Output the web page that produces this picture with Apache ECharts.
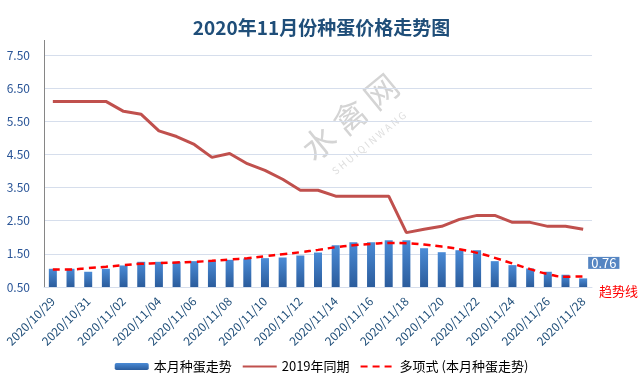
<!DOCTYPE html>
<html>
<head>
<meta charset="utf-8">
<script src="https://cdn.jsdelivr.net/npm/echarts@6/dist/echarts.min.js"></script>
<style>
html,body{margin:0;padding:0;background:#fff;}
#c{width:643px;height:392px;}
</style>
</head>
<body>
<div id="c"></div>
<script>
const categories = ['2020/10/29','2020/10/30','2020/10/31','2020/11/01','2020/11/02','2020/11/03','2020/11/04','2020/11/05','2020/11/06','2020/11/07','2020/11/08','2020/11/09','2020/11/10','2020/11/11','2020/11/12','2020/11/13','2020/11/14','2020/11/15','2020/11/16','2020/11/17','2020/11/18','2020/11/19','2020/11/20','2020/11/21','2020/11/22','2020/11/23','2020/11/24','2020/11/25','2020/11/26','2020/11/27','2020/11/28'];
const thisMonth = [1.05,1.05,0.96,1.05,1.15,1.26,1.26,1.26,1.28,1.30,1.32,1.36,1.37,1.39,1.45,1.54,1.76,1.85,1.85,1.91,1.91,1.67,1.55,1.61,1.61,1.28,1.16,1.06,0.96,0.87,0.76];
const lastYear = [6.1,6.1,6.1,6.1,5.8,5.71,5.21,5.04,4.8,4.41,4.53,4.22,4.02,3.75,3.42,3.42,3.24,3.24,3.24,3.24,2.14,2.24,2.33,2.54,2.66,2.66,2.45,2.45,2.33,2.33,2.24];
const trend = [1.03,1.03,1.07,1.11,1.16,1.2,1.22,1.24,1.26,1.29,1.33,1.37,1.43,1.49,1.55,1.62,1.70,1.76,1.80,1.83,1.82,1.78,1.72,1.64,1.53,1.38,1.21,1.04,0.89,0.81,0.82];
const yTicks = {min:0.5, max:7.5, step:1};
const seriesNames = ['本月种蛋走势','2019年同期','多项式 (本月种蛋走势)'];

const FONT = "'Noto Sans CJK SC', sans-serif";
const chart = echarts.init(document.getElementById('c'), null, {renderer:'canvas'});

const barGrad = new echarts.graphic.LinearGradient(0,0,0,1,[
  {offset:0,color:'#4A8BD6'},{offset:1,color:'#2B5C9C'}
]);

const barData = thisMonth.map((v,i)=> i === thisMonth.length-1 ? {
  value:v,
  label:{show:true, position:[9,-21.5], formatter:(p)=>p.value.toFixed(2),
    backgroundColor:'#5585C2', color:'#fff', fontSize:13, lineHeight:12,
    padding:[0,3], fontFamily:FONT}
} : v);

chart.setOption({
  animation:false,
  textStyle:{fontFamily:FONT},
  title:{
    text:'2020年11月份种蛋价格走势图', left:'center', top:13,
    textStyle:{fontSize:19, fontWeight:'bold', color:'#1F4E79', fontFamily:FONT}
  },
  legend:{
    bottom:14, left:'center', itemWidth:34, itemHeight:7, itemGap:10,
    textStyle:{fontSize:13, color:'#000', fontFamily:FONT},
    data:[
      {name:seriesNames[0]},
      {name:seriesNames[1], itemStyle:{opacity:0}},
      {name:seriesNames[2], itemStyle:{opacity:0}}
    ]
  },
  grid:{left:44, top:55, width:548, height:232},
  xAxis:{
    type:'category', data:categories, boundaryGap:true,
    axisLine:{lineStyle:{color:'#D6DEEC'}},
    axisTick:{show:false},
    axisLabel:{rotate:45, interval:1, fontSize:12, color:'#1F4E79', margin:12, fontFamily:FONT}
  },
  yAxis:{
    type:'value', min:yTicks.min, max:yTicks.max, interval:yTicks.step,
    axisLine:{show:true, lineStyle:{color:'#868686'}},
    axisTick:{show:false},
    axisLabel:{formatter:(v)=>v.toFixed(2), fontSize:12, color:'#2A5597', margin:14, fontFamily:FONT},
    splitLine:{lineStyle:{color:'#D6DEEC'}}
  },
  graphic:[
    {type:'line', shape:{x1:44.5,y1:40,x2:44.5,y2:56}, style:{stroke:'#868686', lineWidth:1}, z:10},
    {type:'text', x:350, y:117, rotation:0.69, z:0,
      style:{text:'水 禽 网', fontSize:33, fill:'#D4D4D4', textAlign:'center', textVerticalAlign:'middle', fontFamily:FONT}},
    {type:'text', x:369, y:143, rotation:0.69, z:0,
      style:{text:'S H U I Q I N W A N G', fontSize:10, fill:'#DEDEDE', textAlign:'center', textVerticalAlign:'middle', fontFamily:FONT}},
    {type:'text', left:599, top:285, z:10,
      style:{text:'趋势线', fontSize:13, fill:'#FF0000', fontFamily:FONT}}
  ],
  series:[
    {name:seriesNames[0], type:'bar', data:barData, barWidth:8,
      itemStyle:{color:barGrad}, z:2},
    {name:seriesNames[1], type:'line', data:lastYear, symbol:'none',
      lineStyle:{color:'#C0504D', width:3}, itemStyle:{color:'#C0504D'}, z:3},
    {name:seriesNames[2], type:'line', data:trend, symbol:'none', smooth:true,
      lineStyle:{color:'#FF0000', width:2.5, type:[7,5]}, itemStyle:{color:'#FF0000'}, z:4}
  ]
});
</script>
</body>
</html>
